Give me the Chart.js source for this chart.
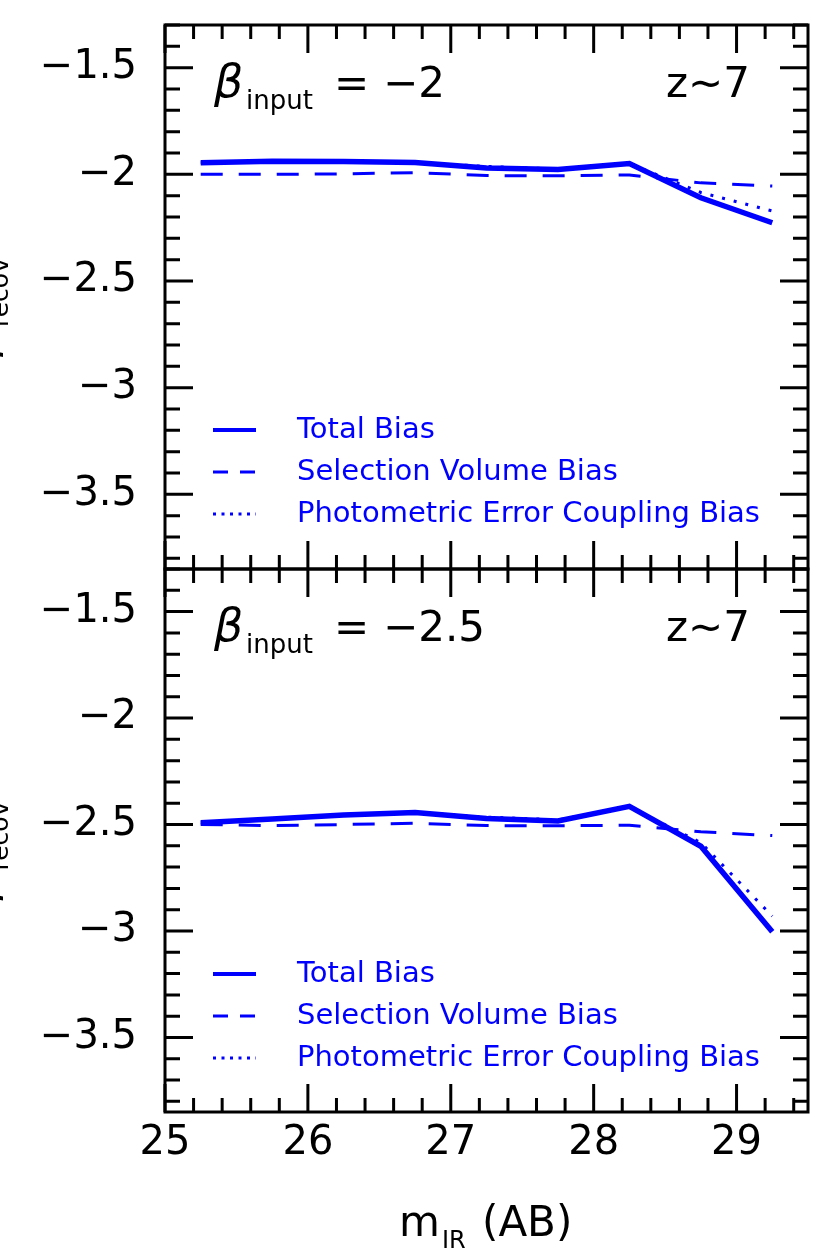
<!DOCTYPE html>
<html>
<head>
<meta charset="utf-8">
<title>Beta bias vs magnitude</title>
<script src="https://cdn.jsdelivr.net/npm/chart.js@4.4.1/dist/chart.umd.min.js"></script>
<style>
    body { margin: 0; background: #fff; }
    .wrap { position: relative; width: 830px; height: 1254px; overflow: hidden; }
    .wrap canvas { position: absolute; left: 0; top: 0; }
</style>
</head>
<body>
<div class="wrap">
    <canvas id="topPanel" width="830" height="1254"></canvas>
    <canvas id="bottomPanel" width="830" height="1254"></canvas>
</div>
<script>
// Data
const mags = [25.25, 25.75, 26.25, 26.75, 27.25, 27.75, 28.25, 28.75, 29.25];

// beta_input = -2
const totalTop  = [-1.946, -1.939, -1.940, -1.944, -1.970, -1.977, -1.949, -2.110, -2.227];
const volumeTop = [-2.000, -2.000, -1.998, -1.992, -2.006, -2.007, -2.003, -2.040, -2.055];
const photTop   = [-1.946, -1.939, -1.940, -1.944, -1.963, -1.975, -1.950, -2.085, -2.172];

// beta_input = -2.5
const totalBot  = [-2.492, -2.474, -2.455, -2.443, -2.472, -2.483, -2.415, -2.602, -3.004];
const volumeBot = [-2.500, -2.505, -2.500, -2.494, -2.505, -2.506, -2.503, -2.534, -2.552];
const photBot   = [-2.492, -2.474, -2.455, -2.443, -2.465, -2.478, -2.418, -2.585, -2.930];

const xTicks = [25, 26, 27, 28, 29];
const yTicks = [-3.5, -3, -2.5, -2, -1.5];
const seriesNames = ['Total Bias', 'Selection Volume Bias', 'Photometric Error Coupling Bias'];

const BLUE = '#0000ff';
const FONT = '"DejaVu Sans", "Liberation Sans", sans-serif';

const toPoints = (ys) => mags.map((m, i) => ({ x: m, y: ys[i] }));
const minus = (v) => (v < 0 ? '\u2212' : '') + Math.abs(v);

// frame, inward ticks on all sides, panel text and legend
const panelDecor = {
    id: 'panelDecor',
    afterDraw(chart, args, opts) {
        const { ctx, chartArea: a, scales } = chart;
        const xs = scales.x, ys = scales.y;
        ctx.save();
        ctx.strokeStyle = '#000';
        ctx.lineWidth = 3;
        ctx.lineCap = 'butt';
        ctx.strokeRect(a.left, a.top, a.right - a.left, a.bottom - a.top);

        ctx.beginPath();
        for (let k = 0; k <= 22; k++) {
            const v = 25 + k * 0.2;
            const px = xs.getPixelForValue(v);
            const len = k % 5 === 0 ? 28 : 14;
            ctx.moveTo(px, a.top); ctx.lineTo(px, a.top + len);
            ctx.moveTo(px, a.bottom); ctx.lineTo(px, a.bottom - len);
        }
        for (let k = 13; k <= 38; k++) {
            const v = -k / 10;
            const py = ys.getPixelForValue(v);
            const len = k % 5 === 0 ? 28 : 15;
            ctx.moveTo(a.left, py); ctx.lineTo(a.left + len, py);
            ctx.moveTo(a.right, py); ctx.lineTo(a.right - len, py);
        }
        ctx.stroke();

        // beta_input = value
        const t = a.top;
        ctx.fillStyle = '#000';
        ctx.textBaseline = 'alphabetic';
        ctx.textAlign = 'left';
        ctx.font = 'italic 46px ' + FONT;
        ctx.fillText('\u03b2', 214, t + 72);
        ctx.font = '26px ' + FONT;
        ctx.fillText('input', 246, t + 84);
        ctx.font = '42px ' + FONT;
        ctx.fillText('=', 334, t + 72);
        ctx.fillText(opts.betaText, 383, t + 72);
        ctx.textAlign = 'right';
        ctx.fillText('z\u223c7', 750, t + 72);

        // y axis title, mostly cut by the page edge
        ctx.save();
        ctx.translate(-6, (a.top + a.bottom) / 2 + 60);
        ctx.rotate(-Math.PI / 2);
        ctx.textAlign = 'left';
        ctx.font = 'italic 44px ' + FONT;
        ctx.fillText('\u03b2', 0, 0);
        ctx.font = '25px ' + FONT;
        ctx.fillText('recov', 30, 14);
        ctx.restore();

        // legend
        ctx.textAlign = 'left';
        ctx.textBaseline = 'middle';
        ctx.font = '29px ' + FONT;
        const rows = [t + 405, t + 447, t + 489];
        const dashes = [[], [15, 12], [3, 5.5]];
        const widths = [4, 3, 3];
        rows.forEach((ry, i) => {
            ctx.strokeStyle = BLUE;
            ctx.lineWidth = widths[i];
            ctx.setLineDash(dashes[i]);
            ctx.beginPath();
            ctx.moveTo(213, ry);
            ctx.lineTo(256, ry);
            ctx.stroke();
            ctx.setLineDash([]);
            ctx.fillStyle = BLUE;
            ctx.fillText(seriesNames[i], 297, ry);
        });

        // x axis title on the lower panel only
        if (opts.xTitle) {
            ctx.fillStyle = '#000';
            ctx.textBaseline = 'alphabetic';
            ctx.font = '42px ' + FONT;
            ctx.fillText('m', 399, a.bottom + 124);
            ctx.font = '24px ' + FONT;
            ctx.fillText('IR', 442, a.bottom + 136);
            ctx.font = '42px ' + FONT;
            ctx.fillText('(AB)', 482, a.bottom + 124);
        }
        ctx.restore();
    }
};

function makePanel(canvasId, total, volume, phot, opts) {
    const ctx = document.getElementById(canvasId).getContext('2d');
    return new Chart(ctx, {
        type: 'line',
        data: {
            datasets: [
                { label: seriesNames[0], data: toPoints(total), borderColor: BLUE, borderWidth: 5.5, borderDash: [] },
                { label: seriesNames[1], data: toPoints(volume), borderColor: BLUE, borderWidth: 3, borderDash: [22, 16] },
                { label: seriesNames[2], data: toPoints(phot), borderColor: BLUE, borderWidth: 3, borderDash: [3, 9] }
            ]
        },
        options: {
            responsive: false,
            animation: false,
            devicePixelRatio: 1,
            layout: { padding: opts.padding },
            elements: {
                point: { radius: 0 },
                line: { tension: 0, fill: false, borderCapStyle: 'butt' }
            },
            plugins: {
                legend: { display: false },
                tooltip: { enabled: false },
                panelDecor: { betaText: opts.betaText, xTitle: opts.showX }
            },
            scales: {
                x: {
                    type: 'linear',
                    min: 25,
                    max: 29.5,
                    afterBuildTicks: (s) => { s.ticks = xTicks.map(v => ({ value: v })); },
                    afterFit: (s) => {
                        s.height = opts.showX ? 60 : 0;
                        s.paddingLeft = 0;
                        s.paddingRight = 0;
                    },
                    grid: { display: false, drawTicks: false },
                    border: { display: false },
                    ticks: {
                        display: opts.showX,
                        color: '#000',
                        padding: 8,
                        maxRotation: 0,
                        font: { family: FONT, size: 40 },
                        callback: (v) => String(v)
                    }
                },
                y: {
                    type: 'linear',
                    min: -3.85,
                    max: -1.3,
                    afterBuildTicks: (s) => { s.ticks = yTicks.map(v => ({ value: v })); },
                    afterFit: (s) => {
                        s.width = 165;
                        s.paddingTop = 0;
                        s.paddingBottom = 0;
                    },
                    grid: { display: false, drawTicks: false },
                    border: { display: false },
                    ticks: {
                        color: '#000',
                        padding: 28,
                        font: { family: FONT, size: 40 },
                        callback: (v) => minus(v)
                    }
                }
            }
        },
        plugins: [panelDecor]
    });
}

makePanel('topPanel', totalTop, volumeTop, photTop, {
    betaText: '\u22122',
    showX: false,
    padding: { left: 0, top: 25, right: 22, bottom: 1254 - 569 }
});

makePanel('bottomPanel', totalBot, volumeBot, photBot, {
    betaText: '\u22122.5',
    showX: true,
    padding: { left: 0, top: 569, right: 22, bottom: 1254 - 1112 - 60 }
});
</script>
</body>
</html>
